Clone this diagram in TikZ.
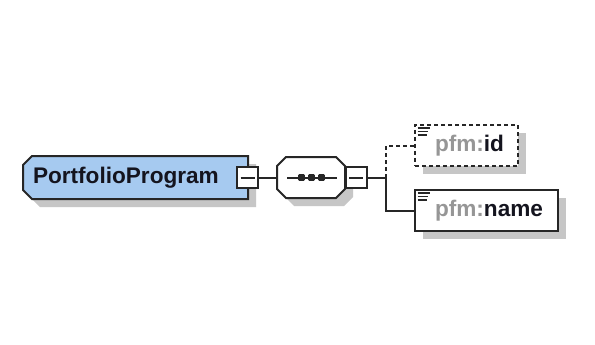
\documentclass[tikz,border=0pt]{standalone}
\usepackage{fontspec}
\setmainfont{Liberation Sans}
\usetikzlibrary{shadows,calc}
\definecolor{boxblue}{RGB}{166,202,240}
\definecolor{edgecol}{RGB}{38,38,38}
\definecolor{shadowgray}{RGB}{198,198,198}
\definecolor{prefixgray}{RGB}{150,150,150}
\definecolor{textcol}{RGB}{20,20,30}
\begin{document}
\begin{tikzpicture}[x=1pt,y=-1pt,
  every node/.style={inner sep=0pt, outer sep=0pt},
  shade/.style={drop shadow={shadow xshift=8pt, shadow yshift=-8pt, fill=shadowgray, opacity=1}},
  lbl/.style={font=\fontsize{22.6}{26}\selectfont\bfseries, text=textcol, anchor=west},
  elembox/.style={draw=edgecol, line width=2pt, shade},
  minusbox/.style={draw=edgecol, line width=2pt, fill=white, minimum width=21pt, minimum height=21pt,
    path picture={\draw[edgecol, line width=2pt] ([xshift=-7pt]path picture bounding box.center) -- ([xshift=7pt]path picture bounding box.center);}},
  conn/.style={draw=edgecol, line width=2pt},
  optconn/.style={conn, dash pattern=on 4pt off 3pt},
  iconline/.style={draw=edgecol, line width=1.3pt}
]
\fill[white] (0,0) rectangle (595,345);
\useasboundingbox (0,0) rectangle (595,345);

% main element (chamfered on the left)
\node[minimum width=225pt, minimum height=43pt] (pp) at (135.5,177.5) {};
\path[elembox, fill=boxblue] ($(pp.north west)+(0,9)$) -- ($(pp.north west)+(9,0)$) -- (pp.north east)
  -- (pp.south east) -- ($(pp.south west)+(9,0)$) -- ($(pp.south west)+(0,-9)$) -- cycle;
\node[lbl] (ppl) at (33,177.5) {PortfolioProgram};
\node[minusbox] (m1) at (247.5,177.5) {};

% sequence compositor (octagon)
\node[minimum width=68pt, minimum height=41pt] (seq) at (311,177.5) {};
\path[elembox, fill=white] ($(seq.north west)+(0,9)$) -- ($(seq.north west)+(9,0)$)
  -- ($(seq.north east)+(-9,0)$) -- ($(seq.north east)+(0,9)$)
  -- ($(seq.south east)+(0,-9)$) -- ($(seq.south east)+(-9,0)$)
  -- ($(seq.south west)+(9,0)$) -- ($(seq.south west)+(0,-9)$) -- cycle;
\coordinate (sa) at (287,177.5);
\coordinate (sb) at (337,177.5);
\draw[conn] (sa) -- (sb);
\foreach \dx in {301.5,311.5,321.5}
  \fill[edgecol, rounded corners=1pt] (\dx-3.3,174.2) rectangle (\dx+3.3,180.8);
\node[minusbox] (m2) at (356,177.5) {};

% children
\node[elembox, fill=white, dash pattern=on 4pt off 3pt, minimum width=103pt, minimum height=41pt] (id) at (466.5,145.5) {};
\node[lbl] (idl) at (435,145.5) {\textcolor{prefixgray}{pfm:}id};
\node[elembox, fill=white, minimum width=143pt, minimum height=41pt] (name) at (486.5,210.5) {};
\node[lbl] (namel) at (435,210.5) {\textcolor{prefixgray}{pfm:}name};

\foreach \b in {id,name} {
  \draw[iconline] ($(\b.north west)+(2.5,3)$) -- ++(12,0);
  \draw[iconline] ($(\b.north west)+(2.5,6.5)$) -- ++(10,0);
  \draw[iconline] ($(\b.north west)+(2.5,10)$) -- ++(9,0);
}

% connectors
\coordinate (br) at (386,177.5);
\draw[conn] (m1.east) -- (seq.west);
\draw[conn] (m2.east) -- (br);
\draw[optconn] (br) |- (id.west);
\draw[conn] (br) |- (name.west);
\end{tikzpicture}
\end{document}
